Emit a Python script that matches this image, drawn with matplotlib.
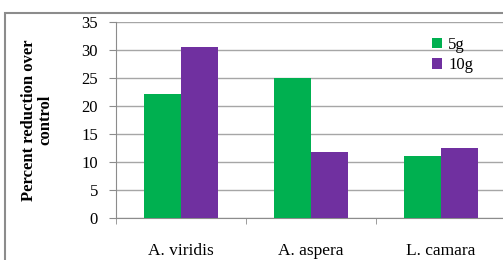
import matplotlib.pyplot as plt
import numpy as np
from matplotlib.patches import Rectangle

plt.rcParams['font.family'] = ['Liberation Serif', 'DejaVu Serif']

# DATA
species = ["A. viridis", "A. aspera", "L. camara"]
dose_labels = ["5g", "10g"]
reduction_5g = [22.1, 25.0, 11.1]
reduction_10g = [30.6, 11.8, 12.5]
y_ticks = [0, 5, 10, 15, 20, 25, 30, 35]

GREEN = "#00B050"
PURPLE = "#7030A0"

fig = plt.figure(figsize=(5.03, 2.60), dpi=100)
# outer chart frame
fig.patches.append(Rectangle((5 / 503, -0.05), 1.2, 1 - 13 / 260 + 0.05,
                             transform=fig.transFigure, fill=False,
                             edgecolor="#8c8c8c", linewidth=1.5))

ax = fig.add_axes([116 / 503, 1 - 218 / 260, 1 - 116 / 503 + 0.005, (218 - 22) / 260])

x = np.arange(len(species))
w = 0.285
ax.bar(x - w / 2, reduction_5g, w, color=GREEN, label=dose_labels[0], zorder=3)
ax.bar(x + w / 2, reduction_10g, w, color=PURPLE, label=dose_labels[1], zorder=3)

ax.set_xlim(-0.5, len(species) - 0.5)
ax.set_ylim(0, 35)
ax.set_yticks(y_ticks)
ax.yaxis.grid(True, color="#a6a6a6", linewidth=1, zorder=0)
ax.set_xticks(x)
ax.set_xticklabels(species, fontsize=12.5)
ax.set_xticks(np.arange(len(species) + 1) - 0.5, minor=True)
ax.tick_params(axis="x", which="major", length=0, pad=18)
ax.tick_params(axis="x", which="minor", length=4, color="#8c8c8c")
ax.tick_params(axis="y", labelsize=12, length=5, pad=8, color="#8c8c8c")

for side in ["top", "right"]:
    ax.spines[side].set_visible(False)
for side in ["left", "bottom"]:
    ax.spines[side].set_color("#8c8c8c")

ax.set_ylabel("Percent reduction over\ncontrol", fontsize=12, fontweight="bold",
              labelpad=20, linespacing=1.05)

ax.legend(loc="upper left", bbox_to_anchor=(0.772, 1.0), frameon=False,
          fontsize=12, handlelength=0.6, handleheight=0.6, handletextpad=0.4,
          labelspacing=0.25)

fig.savefig("out.png", dpi=100)
